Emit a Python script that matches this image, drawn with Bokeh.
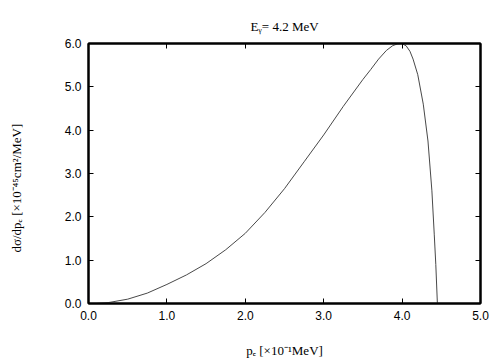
from bokeh.plotting import figure
from bokeh.models import (LinearAxis, FixedTicker, PrintfTickFormatter,
                          CustomJSTickFormatter, Range1d)
from bokeh.embed import file_html
from bokeh.resources import INLINE

# data (p_e in 1e-1 MeV, dsigma/dp_e in 1e-45 cm^2/MeV)
pe = [0.10, 0.25, 0.50, 0.75, 1.00, 1.25, 1.50, 1.75, 2.00, 2.25, 2.50, 2.75,
      3.00, 3.25, 3.50, 3.60, 3.70, 3.80, 3.88, 3.94, 3.99, 4.05, 4.10, 4.14,
      4.20, 4.27, 4.33, 4.38, 4.41, 4.43, 4.45]
dsig = [0.00, 0.02, 0.10, 0.24, 0.44, 0.66, 0.92, 1.24, 1.62, 2.10, 2.65, 3.27,
        3.89, 4.55, 5.17, 5.40, 5.64, 5.84, 5.95, 5.99, 6.00, 5.95, 5.82, 5.64,
        5.28, 4.60, 3.75, 2.60, 1.60, 0.90, 0.00]
xticks = [0, 1, 2, 3, 4, 5]
yticks = [0, 1, 2, 3, 4, 5, 6]
title_text = "Eᵧ= 4.2 MeV"
xlabel = "pₑ [×10⁻¹MeV]"
ylabel = "dσ/dpₑ [×10⁻⁴⁵cm²/MeV]"

SERIF = "Liberation Serif"
SANS = "Liberation Sans"

p = figure(width=504, height=360, output_backend="svg", toolbar_location=None,
           x_range=Range1d(0, 5), y_range=Range1d(0, 6),
           min_border_left=88, min_border_right=24, min_border_top=43,
           min_border_bottom=56)
p.grid.visible = False
p.outline_line_color = "black"
p.outline_line_width = 2
p.background_fill_color = "white"
p.border_fill_color = "white"

p.line(pe, dsig, line_color="#333333", line_width=0.9)

def style_axis(ax, ticks, show_labels):
    ax.ticker = FixedTicker(ticks=ticks)
    ax.major_tick_in = 5
    ax.major_tick_out = 0
    ax.minor_tick_in = 0
    ax.minor_tick_out = 0
    ax.major_tick_line_color = "black"
    ax.major_tick_line_width = 1
    ax.axis_line_color = "black"
    ax.axis_line_width = 2
    if show_labels:
        ax.formatter = PrintfTickFormatter(format="%.1f")
        ax.major_label_text_font = SANS
        ax.major_label_text_font_size = "12px"
        ax.major_label_text_color = "black"
        ax.major_label_standoff = 7
        ax.axis_label_text_font = SERIF
        ax.axis_label_text_font_size = "13px"
        ax.axis_label_text_font_style = "normal"
        ax.axis_label_text_color = "black"
    else:
        ax.formatter = CustomJSTickFormatter(code="return ''")
        ax.major_label_standoff = 0

xa = p.xaxis[0]
style_axis(xa, xticks, True)
xa.axis_label = xlabel
xa.axis_label_standoff = 20

ya = p.yaxis[0]
style_axis(ya, yticks, True)
ya.axis_label = ylabel + "\u00a0" * 9
ya.axis_label_standoff = 38

ra = LinearAxis()
style_axis(ra, yticks, False)
p.add_layout(ra, "right")
ta = LinearAxis()
style_axis(ta, xticks, False)
p.add_layout(ta, "above")

p.title.text = title_text
p.title.align = "center"
p.title.text_font = SERIF
p.title.text_font_size = "13px"
p.title.text_font_style = "normal"
p.title.text_color = "black"
p.title.standoff = 20

open("out.html", "w").write(file_html(p, INLINE))
